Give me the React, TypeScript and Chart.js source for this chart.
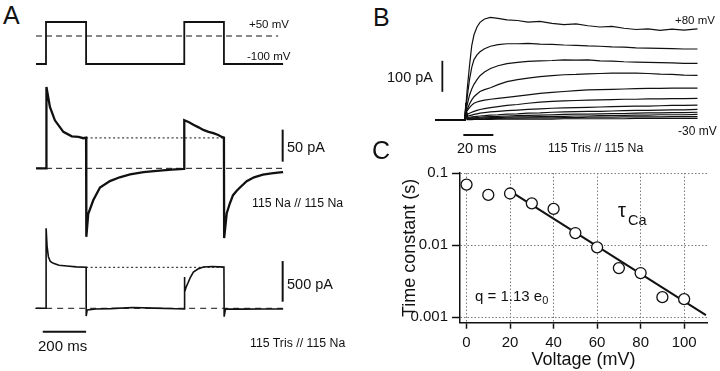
import React, { useEffect, useRef } from "react";
import { Chart, registerables } from "chart.js";

Chart.register(...registerables);

const FONT = "'Liberation Sans', Arial, Helvetica, sans-serif";
const INK = "#111111";

// ---------------- Panel A (time in ms) ----------------
const protocolTimes = [-46, 0, 0, 185, 185, 638, 638, 821, 821, 1094];
const protocolVolts = [-100, -100, 50, 50, -100, -100, 50, 50, -100, -100];
const protocolZeroTimes = [-46, 1071];
const protocolZeroVolts = [0, 0];

const naTimes = [-46, 0, 2, 18, 41, 80, 119, 150, 172, 185, 186, 195, 218, 249, 295, 340, 388, 450, 511, 580, 637, 638, 660, 680, 704, 726, 750, 772, 795, 811, 821, 822, 834, 848, 863, 880, 895, 926, 960, 1001, 1040, 1080, 1094];
const naCurrent = [0, 0, 127, 96, 75, 57, 50, 49, 47, 48, -107, -71, -50, -30, -20, -14, -9.5, -6, -4, -2, -1, 75, 72, 68, 64, 60, 57, 55, 52, 49, 48, -109, -70, -55, -42, -35, -30, -20, -14, -10, -8, -6.5, -6];
const naPlateauTimes = [185, 821];
const naPlateauLevel = [47.5, 47.5];
const naBaseTimes = [-46, 1094];
const naBaseLevel = [0, 0];

const trisTimes = [-46, 0, 0.5, 5, 11, 20, 34, 60, 96, 140, 185, 185.5, 190, 230, 300, 400, 500, 600, 637, 638, 641, 648, 655, 665, 680, 701, 726, 766, 800, 821, 822, 828, 900, 1000, 1094];
const trisCurrent = [0, 0, 984, 760, 635, 575, 553, 530, 520, 510, 504, -95, -20, -8, -4, 10, 2, -6, -8, 385, 200, 270, 311, 373, 446, 483, 508, 514, 510, 508, -103, -9, -10, -8, -9];
const trisPlateauTimes = [185, 821];
const trisPlateauLevel = [504, 504];
const trisBaseTimes = [-50, 1094];
const trisBaseLevel = [0, 0];

// scale bars (panel A)
const barNaTimes = [1092, 1092];
const barNaCurrent = [10.4, 60.4]; // 50 pA
const barTrisTimes = [1092, 1092];
const barTrisCurrent = [81, 581]; // 500 pA
const barTimeTimes = [-15, 185]; // 200 ms
const barTimeCurrent = [-288, -288];

// ---------------- Panel B (time in ms, current in pA) ----------------
const bTimes = [-20, 0, 0.5, 1.5, 3, 4.5, 6, 8, 10, 13, 17, 22, 28, 35, 42, 50, 58, 66, 74, 82, 90, 98, 106, 114, 122, 130, 138, 146, 155];
const bPlus80 = [0, 0, 40, 100, 175, 240, 275, 300, 315, 326, 331, 328, 323, 321, 316, 318, 312, 308, 310, 304, 300, 302, 296, 292, 294, 289, 293, 290, 294];
const bPlus70 = [0, 0, 30, 75, 130, 170, 195, 210, 220, 230, 238, 243, 246, 246, 247, 245, 244, 242, 241, 239, 238, 236, 235, 233, 232, 231, 230, 229, 229];
const bPlus60 = [0, 0, 25, 50, 80, 100, 115, 130, 143, 155, 166, 175, 182, 186, 189, 191, 192, 194, 193, 194, 191, 190, 188, 187, 186, 185, 184, 183, 183];
const bPlus50 = [0, 0, 22, 35, 52, 65, 75, 84, 92, 98, 104, 114, 124, 130, 135, 140, 143, 146, 147, 149, 150, 151, 151, 151, 150, 148, 147, 145, 144];
const bPlus40 = [0, 0, 25, 30, 40, 48, 54, 58, 61, 64, 67, 70, 73, 77, 81, 86, 89, 92, 95, 97, 98, 99, 100, 101, 102, 102, 103, 103, 103];
const bPlus30 = [0, 0, 30, 18, 22, 25, 28, 31, 34, 37, 40, 43, 47, 50, 54, 58, 60, 62, 63, 64, 65, 66, 67, 67, 68, 68, 69, 69, 70];
const bPlus20 = [0, 0, 35, 12, 14, 16, 18, 20, 22, 24, 26, 28, 30, 32, 34, 36, 38, 39, 40, 41, 42, 43, 44, 45, 45, 46, 47, 47, 48];
const bPlus10 = [0, 0, 40, 8, 9, 10, 11, 12, 13, 14, 16, 17, 19, 20, 22, 23, 25, 26, 27, 28, 28, 29, 30, 31, 31, 32, 33, 33, 34];
const bZero = [0, 0, 45, 5, 6, 7, 7, 8, 9, 10, 11, 12, 13, 14, 15, 16, 17, 18, 19, 19, 20, 21, 21, 22, 23, 23, 24, 24, 25];
const bMinus10 = [0, 0, 45, 3, 4, 5, 5, 6, 6, 7, 8, 8, 9, 10, 10, 11, 12, 12, 13, 13, 14, 15, 15, 16, 16, 17, 17, 17, 18];
const bMinus20 = [0, 0, 50, 2, 2, 3, 3, 4, 4, 4, 5, 5, 6, 6, 7, 7, 7, 8, 8, 9, 9, 9, 10, 10, 10, 10, 11, 11, 11];
const bMinus30 = [0, 0, 55, 1, 1, 1, 2, 2, 2, 2, 2, 3, 3, 3, 3, 3, 3, 4, 4, 4, 4, 4, 4, 5, 5, 5, 5, 5, 5];
const bTraces = [bPlus80, bPlus70, bPlus60, bPlus50, bPlus40, bPlus30, bPlus20, bPlus10, bZero, bMinus10, bMinus20, bMinus30];

const bBarCurrentTimes = [-15.1, -15.1];
const bBarCurrent = [91, 191]; // 100 pA
const bBarTimeTimes = [-1.1, 18.9]; // 20 ms
const bBarTimeCurrent = [-48.4, -48.4];

// ---------------- Panel C ----------------
const cVoltage = [0, 10, 20, 30, 40, 50, 60, 70, 80, 90, 100];
const cTau = [0.069, 0.0497, 0.052, 0.038, 0.0318, 0.0147, 0.0093, 0.0048, 0.0041, 0.0019, 0.00178];
const fitVoltage = [20, 110];
const fitTau = [0.056, 0.00107];
const cXTicks = [0, 20, 40, 60, 80, 100];
const cYTicks = [0.001, 0.01, 0.1];
const cYTickLabels = ["0.001", "0.01", "0.1"];

type Pt = { x: number; y: number };
const pts = (xs: number[], ys: number[]): Pt[] => xs.map((x, i) => ({ x, y: ys[i] }));

function lineSet(data: Pt[], width: number, dash: number[] = [], color = INK) {
  return {
    data,
    borderColor: color,
    borderWidth: width,
    borderDash: dash,
    pointRadius: 0,
    fill: false,
    tension: 0,
    clip: false as any,
    showLine: true,
    borderJoinStyle: "miter" as const,
  };
}

function bareConfig(datasets: any[], xmin: number, xmax: number, ymin: number, ymax: number): any {
  return {
    type: "line",
    data: { datasets },
    options: {
      animation: false,
      responsive: false,
      maintainAspectRatio: false,
      events: [],
      layout: { padding: 0 },
      plugins: { legend: { display: false }, tooltip: { enabled: false } },
      scales: {
        x: { type: "linear", min: xmin, max: xmax, display: false },
        y: { type: "linear", min: ymin, max: ymax, display: false },
      },
    },
  };
}

function Plot({ left, top, width, height, make }: { left: number; top: number; width: number; height: number; make: () => any }) {
  const ref = useRef<HTMLCanvasElement>(null);
  useEffect(() => {
    const chart = new Chart(ref.current as HTMLCanvasElement, make());
    return () => chart.destroy();
  }, []);
  return (
    <canvas
      ref={ref}
      width={width}
      height={height}
      style={{ position: "absolute", left, top, width, height }}
    />
  );
}

function Label({ x, cy, size, children }: { x: number; cy: number; size: number; children: React.ReactNode }) {
  return (
    <div
      style={{
        position: "absolute",
        left: x,
        top: cy - 0.49 * size,
        fontSize: size,
        lineHeight: 1,
        fontFamily: FONT,
        whiteSpace: "nowrap",
        color: INK,
      }}
    >
      {children}
    </div>
  );
}

// Panel A x mapping: canvas left 20, width 280 -> -120..1172 ms
const A_XMIN = -120;
const A_XMAX = 1172;

const makeProtocol = () =>
  bareConfig(
    [
      lineSet(pts(protocolTimes, protocolVolts), 1.8),
      lineSet(pts(protocolZeroTimes, protocolZeroVolts), 1, [6, 4]),
    ],
    A_XMIN, A_XMAX, -139.3, 92.9
  );

const makeNa = () =>
  bareConfig(
    [
      lineSet(pts(naTimes, naCurrent), 2.3),
      lineSet(pts(naPlateauTimes, naPlateauLevel), 1, [2, 2.5]),
      lineSet(pts(naBaseTimes, naBaseLevel), 1, [6, 4]),
      lineSet(pts(barNaTimes, barNaCurrent), 2),
    ],
    A_XMIN, A_XMAX, -124.5, 141.1
  );

const makeTris = () =>
  bareConfig(
    [
      lineSet(pts(trisTimes, trisCurrent), 1.6),
      lineSet(pts(trisPlateauTimes, trisPlateauLevel), 1, [2, 2.5]),
      lineSet(pts(trisBaseTimes, trisBaseLevel), 1, [6, 5]),
      lineSet(pts(barTrisTimes, barTrisCurrent), 2),
      lineSet(pts(barTimeTimes, barTimeCurrent), 2),
    ],
    A_XMIN, A_XMAX, -512.9, 1147.6
  );

const makeB = () =>
  bareConfig(
    [
      ...bTraces.map((tr) => lineSet(pts(bTimes, tr), 1.2)),
      lineSet(pts(bBarCurrentTimes, bBarCurrent), 1.8),
      lineSet(pts(bBarTimeTimes, bBarTimeCurrent), 2),
    ],
    -23.33, 170, -80.6, 371
  );

const makeC = (): any => ({
  type: "scatter",
  data: {
    datasets: [
      {
        data: pts(cVoltage, cTau),
        showLine: false,
        pointRadius: 5.5,
        pointBackgroundColor: "#ffffff",
        pointBorderColor: INK,
        pointBorderWidth: 1.3,
        clip: false,
      },
      {
        data: pts(fitVoltage, fitTau),
        showLine: true,
        borderColor: INK,
        borderWidth: 2,
        pointRadius: 0,
        clip: false,
      },
    ],
  },
  options: {
    animation: false,
    responsive: false,
    maintainAspectRatio: false,
    events: [],
    layout: { padding: { left: 0, top: 12.7, right: 13, bottom: 0 } },
    plugins: { legend: { display: false }, tooltip: { enabled: false } },
    scales: {
      x: {
        type: "linear",
        min: -3,
        max: 110.5,
        afterBuildTicks: (s: any) => {
          s.ticks = cXTicks.map((v) => ({ value: v }));
        },
        afterFit: (s: any) => {
          s.height = 48.3;
        },
        ticks: {
          font: { family: FONT, size: 15 },
          color: INK,
          padding: 5,
          maxRotation: 0,
          autoSkip: false,
          callback: (v: any) => String(v),
        },
        grid: { color: "#7a7a7a", lineWidth: 1, tickLength: 6, tickColor: INK, tickWidth: 1.5 },
        border: { display: true, color: INK, width: 1.5, dash: [1.5, 2] },
        title: {
          display: true,
          text: "Voltage (mV)",
          font: { family: FONT, size: 18 },
          color: INK,
          padding: { top: 0, bottom: 0 },
        },
      },
      y: {
        type: "logarithmic",
        min: 0.00084,
        max: 0.1,
        afterBuildTicks: (s: any) => {
          s.ticks = cYTicks.map((v) => ({ value: v }));
        },
        afterFit: (s: any) => {
          s.width = 80;
        },
        ticks: {
          font: { family: FONT, size: 15 },
          color: INK,
          padding: 4,
          autoSkip: false,
          callback: (_v: any, i: number) => cYTickLabels[i],
        },
        grid: { color: "#7a7a7a", lineWidth: 1, tickLength: 8, tickColor: INK, tickWidth: 1.5 },
        border: { display: true, color: INK, width: 1.5, dash: [1.5, 2] },
        title: {
          display: true,
          text: "Time constant (s)",
          font: { family: FONT, size: 18 },
          color: INK,
          padding: { top: 19, bottom: 0 },
        },
      },
    },
  },
});

export default function App() {
  return (
    <div
      style={{
        position: "fixed",
        left: 0,
        top: 0,
        width: 720,
        height: 371,
        background: "#ffffff",
        overflow: "hidden",
        fontFamily: FONT,
      }}
    >
      <Plot left={20} top={10} width={280} height={65} make={makeProtocol} />
      <Plot left={20} top={78} width={280} height={170} make={makeNa} />
      <Plot left={20} top={215} width={280} height={135} make={makeTris} />
      <Plot left={430} top={5} width={290} height={140} make={makeB} />
      <Plot left={380} top={160} width={340} height={211} make={makeC} />

      <Label x={3} cy={15} size={25}>A</Label>
      <Label x={373} cy={17} size={25}>B</Label>
      <Label x={372} cy={150} size={25}>C</Label>

      <Label x={249} cy={25} size={11.5}>+50 mV</Label>
      <Label x={247} cy={57} size={11.5}>-100 mV</Label>
      <Label x={287} cy={146.7} size={14.5}>50 pA</Label>
      <Label x={252} cy={202.7} size={12.3}>115 Na // 115 Na</Label>
      <Label x={287} cy={284.3} size={14.5}>500 pA</Label>
      <Label x={38} cy={345.7} size={15}>200 ms</Label>
      <Label x={250} cy={342.7} size={12.3}>115 Tris // 115 Na</Label>

      <Label x={675} cy={20.5} size={11.5}>+80 mV</Label>
      <Label x={678} cy={131} size={12}>-30 mV</Label>
      <Label x={387} cy={77.5} size={14.5}>100 pA</Label>
      <Label x={457} cy={148.3} size={14.5}>20 ms</Label>
      <Label x={548} cy={148.3} size={12.3}>115 Tris // 115 Na</Label>

      <div style={{ position: "absolute", left: 618, top: 200, fontSize: 20, lineHeight: 1, fontFamily: FONT, color: INK }}>τ</div>
      <Label x={628} cy={220} size={14.5}>Ca</Label>
      <Label x={475} cy={295} size={15}>
        q = 1.13 e<span style={{ fontSize: 11, verticalAlign: -3 }}>0</span>
      </Label>
    </div>
  );
}
